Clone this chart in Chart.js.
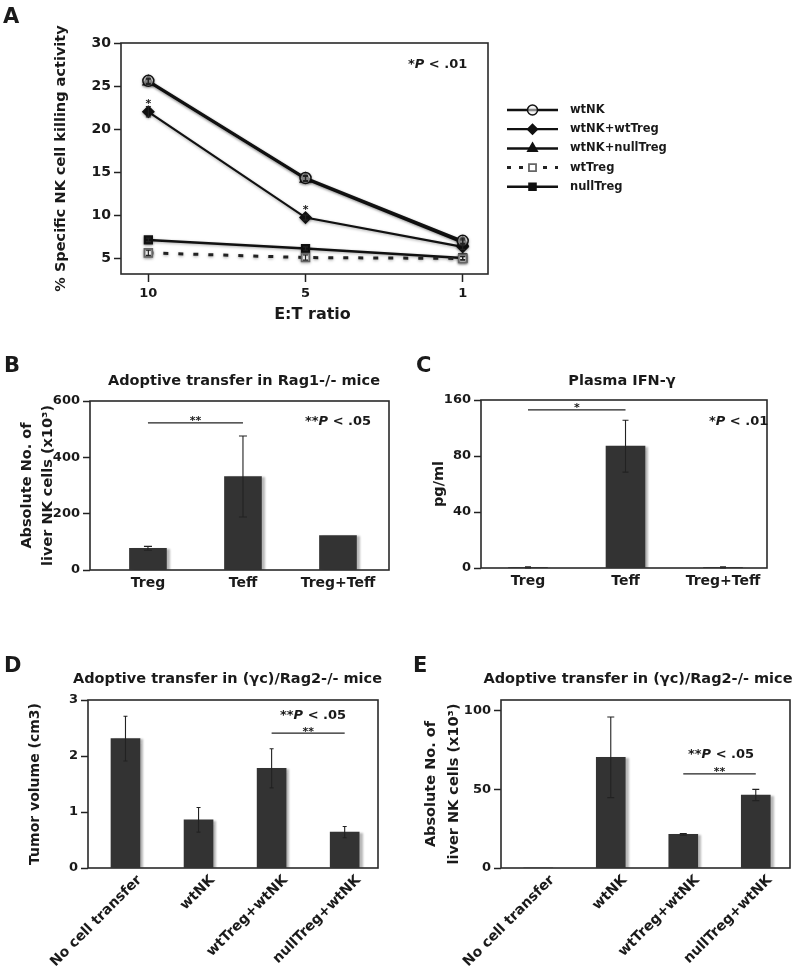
<!DOCTYPE html>
<html><head><meta charset="utf-8">
<script src="https://cdn.jsdelivr.net/npm/chart.js@4.4.1/dist/chart.umd.min.js"></script>
<style>
html,body{margin:0;padding:0;background:#fff;}
#wrap{position:relative;width:795px;height:975px;overflow:hidden;background:#fff;}
canvas{position:absolute;left:0;top:0;}
</style></head><body><div id="wrap">
<canvas id="cA" width="795" height="975"></canvas>
<canvas id="cB" width="795" height="975"></canvas>
<canvas id="cC" width="795" height="975"></canvas>
<canvas id="cD" width="795" height="975"></canvas>
<canvas id="cE" width="795" height="975"></canvas>
</div>
<script>
// ---------------- DATA ----------------
const etRatios = ['10', '5', '1'];
const wtNK = [25.6, 14.3, 7.0];
const wtNKErr = [0.3, 0.3, 0.3];
const wtNKwtTreg = [22.0, 9.7, 6.3];
const wtNKwtTregErr = [0.6, 0.3, 0.3];
const wtNKnullTreg = [25.5, 14.2, 6.8];
const wtNKnullTregErr = [0.3, 0.3, 0.3];
const wtTreg = [5.6, 5.05, 4.95];
const wtTregErr = [0.3, 0.3, 0.2];
const nullTreg = [7.1, 6.1, 5.0];
const nullTregErr = [0.2, 0.2, 0.2];
const killTicks = [5, 10, 15, 20, 25, 30];

const groupsBC = ['Treg', 'Teff', 'Treg+Teff'];
const nkRag1 = [77, 332, 122];
const nkRag1Err = [7, 144, 0];
const nkRag1Ticks = [0, 200, 400, 600];

const ifng = [0.4, 87, 0.4];
const ifngErr = [0.4, 18.5, 0.4];
const ifngTickPos = [0, 40, 80, 120];
const ifngTickLabels = ['0', '40', '80', '160'];

const groupsDE = ['No cell transfer', 'wtNK', 'wtTreg+wtNK', 'nullTreg+wtNK'];
const tumorVol = [2.31, 0.86, 1.78, 0.64];
const tumorVolErr = [0.40, 0.22, 0.35, 0.10];
const tumorTicks = [0, 1, 2, 3];
const nkGc = [0, 70.5, 21.4, 46.5];
const nkGcErr = [0, 25.7, 0.5, 3.6];
const nkGcTicks = [0, 50, 100];

// ---------------- STYLE ----------------
const FONT = "'DejaVu Sans', 'Liberation Sans', Arial, sans-serif";
const INK = '#1a1a1a';
const BAR = '#333333';
Chart.defaults.font.family = FONT;
Chart.defaults.font.weight = 'bold';
Chart.defaults.color = INK;
Chart.defaults.animation = false;
Chart.defaults.responsive = false;
Chart.defaults.devicePixelRatio = 1;
Chart.defaults.plugins.legend.display = false;
Chart.defaults.plugins.tooltip.enabled = false;

function fnt(size, italic) { return (italic ? 'italic ' : '') + 'bold ' + size + 'px ' + FONT; }
function drawRich(ctx, segs, x, y, size, align) {
  const ws = segs.map(s => { ctx.font = fnt(size, s[1]); return ctx.measureText(s[0]).width; });
  const total = ws.reduce((a, b) => a + b, 0);
  let cx = align === 'center' ? x - total / 2 : (align === 'right' ? x - total : x);
  ctx.textAlign = 'left'; ctx.textBaseline = 'alphabetic'; ctx.fillStyle = INK;
  segs.forEach((s, i) => { ctx.font = fnt(size, s[1]); ctx.fillText(s[0], cx, y); cx += ws[i]; });
}

// frame, error bars, shadows, annotations, legend
const panelPlugin = {
  id: 'panel',
  beforeDatasetsDraw(chart, args, o) {
    const ctx = chart.ctx; ctx.save();
    if (o.shadow) { ctx.shadowColor = o.shadow.color; ctx.shadowOffsetX = o.shadow.dx; ctx.shadowOffsetY = o.shadow.dy; ctx.shadowBlur = o.shadow.blur; }
  },
  afterDatasetsDraw(chart, args, o) {
    const ctx = chart.ctx; ctx.restore();
    const ys = chart.scales.y;
    chart.data.datasets.forEach((ds, di) => {
      if (!ds.errors) return;
      const meta = chart.getDatasetMeta(di);
      meta.data.forEach((el, i) => {
        const e = ds.errors[i]; if (!e) return;
        const v = ds.data[i].y;
        const y1 = ys.getPixelForValue(v + e), y2 = ys.getPixelForValue(v - e);
        const cw = o.cap || 6;
        ctx.save(); ctx.strokeStyle = ds.errColor || '#222'; ctx.lineWidth = ds.errWidth || 1.2;
        ctx.beginPath();
        ctx.moveTo(el.x, y1); ctx.lineTo(el.x, y2);
        ctx.moveTo(el.x - cw / 2, y1); ctx.lineTo(el.x + cw / 2, y1);
        ctx.moveTo(el.x - cw / 2, y2); ctx.lineTo(el.x + cw / 2, y2);
        ctx.stroke(); ctx.restore();
      });
    });
  },
  afterDraw(chart, args, o) {
    const ctx = chart.ctx, a = chart.chartArea;
    const xs = chart.scales.x, ys = chart.scales.y;
    ctx.save();
    ctx.strokeStyle = '#2a2a2a'; ctx.lineWidth = 1.6;
    ctx.strokeRect(a.left, a.top, a.right - a.left, a.bottom - a.top);
    (o.texts || []).forEach(t => drawRich(ctx, t.segs, t.x, t.y, t.size, t.align));
    (o.sig || []).forEach(s => {
      const x1 = xs.getPixelForValue(s.from), x2 = xs.getPixelForValue(s.to), y = ys.getPixelForValue(s.y);
      ctx.strokeStyle = '#222'; ctx.lineWidth = 1.3;
      ctx.beginPath(); ctx.moveTo(x1, y); ctx.lineTo(x2, y); ctx.stroke();
      ctx.font = fnt(11); ctx.fillStyle = INK; ctx.textAlign = 'center'; ctx.textBaseline = 'alphabetic';
      ctx.fillText(s.stars, (x1 + x2) / 2, y + 1.5);
    });
    (o.pointStars || []).forEach(s => {
      const el = chart.getDatasetMeta(s.dataset).data[s.index];
      ctx.font = fnt(11); ctx.fillStyle = INK; ctx.textAlign = 'center'; ctx.textBaseline = 'alphabetic';
      ctx.fillText(s.text, el.x, el.y - 4.5);
    });
    if (o.legend) {
      const L = o.legend;
      chart.data.datasets.forEach((ds, i) => {
        const y = L.y0 + i * L.dy;
        ctx.strokeStyle = ds.borderColor; ctx.lineWidth = ds.borderWidth;
        ctx.setLineDash(ds.legendDash || []);
        ctx.beginPath(); ctx.moveTo(L.x0, y); ctx.lineTo(L.x1, y); ctx.stroke();
        ctx.setLineDash([]);
        ctx.fillStyle = ds.pointBackgroundColor; ctx.strokeStyle = ds.pointBorderColor; ctx.lineWidth = ds.pointBorderWidth;
        Chart.helpers.drawPoint(ctx, { pointStyle: ds.pointStyle, radius: ds.pointRadius - 0.5, rotation: 0, borderWidth: ds.pointBorderWidth }, (L.x0 + L.x1) / 2, y);
        ctx.fillStyle = INK; ctx.font = fnt(L.size); ctx.textAlign = 'left'; ctx.textBaseline = 'middle';
        ctx.fillText(ds.label, L.tx, y);
      });
    }
    ctx.restore();
  }
};
Chart.register(panelPlugin);

function yAxis(cfg) {
  return {
    type: 'linear', min: cfg.min, max: cfg.max, offset: false,
    afterBuildTicks: s => { s.ticks = cfg.ticks.map(v => ({ value: v })); },
    afterFit: s => { s.width = cfg.width; },
    ticks: { color: INK, font: { size: cfg.tickSize, weight: 'bold' }, padding: 3,
      callback: (v, i) => cfg.labels ? cfg.labels[i] : String(v) },
    grid: { display: true, drawOnChartArea: false, drawTicks: true, tickLength: 7, tickColor: '#222', tickWidth: 1.5, color: 'rgba(0,0,0,0)' },
    border: { display: false },
    title: { display: true, text: cfg.title, color: INK,
      font: { size: cfg.titleSize, weight: 'bold', lineHeight: cfg.lineHeight || 1.2 },
      padding: { top: cfg.titlePad, bottom: 0 } }
  };
}
function xAxis(cfg) {
  return {
    type: 'linear', min: cfg.min, max: cfg.max, offset: false,
    afterBuildTicks: s => { s.ticks = cfg.labels.map((l, i) => ({ value: i })); },
    afterFit: s => { s.height = cfg.height; },
    ticks: { color: INK, font: { size: cfg.tickSize, weight: 'bold' }, padding: cfg.pad,
      autoSkip: false, maxRotation: cfg.rot || 0, minRotation: cfg.rot || 0, labelOffset: cfg.labelOffset || 0,
      callback: (v, i) => cfg.labels[i] },
    grid: { display: !!cfg.tickLen, drawOnChartArea: false, drawTicks: !!cfg.tickLen, tickLength: cfg.tickLen || 0, tickColor: '#222', tickWidth: 1.5, color: 'rgba(0,0,0,0)' },
    border: { display: false },
    title: cfg.title ? { display: true, text: cfg.title, color: INK, font: { size: 16, weight: 'bold' }, padding: { top: 0, bottom: cfg.titlePad } } : { display: false }
  };
}
const pts = arr => arr.map((v, i) => ({ x: i, y: v }));
const pad = (l, t, r, b) => ({ left: l, top: t, right: r, bottom: b });

// ---------------- PANEL A ----------------
function lineDs(label, vals, errs, style, extra) {
  return Object.assign({
    label, data: pts(vals), errors: errs, borderColor: '#111', borderWidth: 2.5,
    pointStyle: style, pointRadius: 5.5, pointBorderWidth: 1.5,
    pointBackgroundColor: '#111', pointBorderColor: '#111', tension: 0, errWidth: 1.2
  }, extra || {});
}
new Chart(document.getElementById('cA'), {
  type: 'line',
  data: { datasets: [
    lineDs('wtNK', wtNK, wtNKErr, 'circle', { pointBackgroundColor: 'rgba(235,235,235,0.55)' }),
    lineDs('wtNK+wtTreg', wtNKwtTreg, wtNKwtTregErr, 'rectRot', { borderWidth: 2.2 }),
    lineDs('wtNK+nullTreg', wtNKnullTreg, wtNKnullTregErr, 'triangle', { pointRadius: 6 }),
    lineDs('wtTreg', wtTreg, wtTregErr, 'rect', { borderDash: [5, 10], legendDash: [4, 8], borderWidth: 3, pointBackgroundColor: '#fff', pointBorderColor: '#666', pointBorderWidth: 1.8, borderColor: '#222' }),
    lineDs('nullTreg', nullTreg, nullTregErr, 'rect')
  ]},
  options: {
    layout: { padding: pad(21, 43, 307, 645) },
    scales: {
      x: xAxis({ min: -0.174, max: 2.161, labels: etRatios, height: 56, tickSize: 13, pad: 4, tickLen: 8, title: '\u2003E:T ratio', titlePad: 6 }),
      y: yAxis({ min: 3.14, max: 30, ticks: killTicks, width: 100, tickSize: 14, title: '% Specific NK cell killing activity', titleSize: 14.5, titlePad: 32 })
    },
    plugins: { panel: {
      shadow: { color: 'rgba(0,0,0,0.35)', dx: 0, dy: 1, blur: 3 },
      cap: 5,
      texts: [
        { segs: [['A']], x: 3, y: 23, size: 21 },
        { segs: [['*'], ['P', true], [' < .01']], x: 408, y: 68, size: 13 }
      ],
      pointStars: [{ dataset: 1, index: 0, text: '*' }, { dataset: 1, index: 1, text: '*' }],
      legend: { x0: 507, x1: 558, tx: 570, y0: 110, dy: 19.2, size: 11.5 }
    } }
  }
});

// ---------------- bar panel helper ----------------
function barDs(label, vals, errs, thick) {
  return { label, data: pts(vals), errors: errs, backgroundColor: BAR, borderWidth: 0, barThickness: thick, errWidth: 1.1, errColor: '#222' };
}
const barShadow = { color: 'rgba(0,0,0,0.28)', dx: 3, dy: 1, blur: 2 };

// ---------------- PANEL B ----------------
new Chart(document.getElementById('cB'), {
  type: 'bar',
  data: { datasets: [barDs('Absolute No. of liver NK cells', nkRag1, nkRag1Err, 37)] },
  options: {
    layout: { padding: pad(0, 401, 406, 365) },
    scales: {
      x: xAxis({ min: -0.61, max: 2.537, labels: groupsBC, height: 40, tickSize: 14, pad: 5 }),
      y: yAxis({ min: 0, max: 600, ticks: nkRag1Ticks, width: 90, tickSize: 13, title: ['Absolute No. of', 'liver NK cells (x10³)'], titleSize: 14.5, lineHeight: 1.45, titlePad: 17 })
    },
    plugins: { panel: {
      shadow: barShadow, cap: 8,
      texts: [
        { segs: [['B']], x: 4, y: 372, size: 21 },
        { segs: [['Adoptive transfer in Rag1-/- mice']], x: 244, y: 385, size: 14.5, align: 'center' },
        { segs: [['**'], ['P', true], [' < .05']], x: 305, y: 425, size: 13 }
      ],
      sig: [{ from: 0, to: 1, y: 522, stars: '**' }]
    } }
  }
});

// ---------------- PANEL C ----------------
new Chart(document.getElementById('cC'), {
  type: 'bar',
  data: { datasets: [barDs('Plasma IFN-γ', ifng, ifngErr, 39)] },
  options: {
    layout: { padding: pad(400, 400, 28, 367) },
    scales: {
      x: xAxis({ min: -0.482, max: 2.451, labels: groupsBC, height: 40, tickSize: 14, pad: 5 }),
      y: yAxis({ min: 0, max: 120, ticks: ifngTickPos, labels: ifngTickLabels, width: 81, tickSize: 13, title: 'pg/ml', titleSize: 14.5, titlePad: 31 })
    },
    plugins: { panel: {
      shadow: barShadow, cap: 6,
      texts: [
        { segs: [['C']], x: 416, y: 372, size: 21 },
        { segs: [['Plasma IFN-γ']], x: 622, y: 385, size: 14.5, align: 'center' },
        { segs: [['*'], ['P', true], [' < .01']], x: 709, y: 425, size: 13 }
      ],
      sig: [{ from: 0, to: 1, y: 112.9, stars: '*' }]
    } }
  }
});

// ---------------- PANEL D ----------------
new Chart(document.getElementById('cD'), {
  type: 'bar',
  data: { datasets: [barDs('Tumor volume', tumorVol, tumorVolErr, 29)] },
  options: {
    layout: { padding: pad(0, 700, 417, 0) },
    scales: {
      x: xAxis({ min: -0.513, max: 3.456, labels: groupsDE, height: 107, tickSize: 14, pad: 4, rot: 45, labelOffset: 14 }),
      y: yAxis({ min: 0, max: 3, ticks: tumorTicks, width: 88, tickSize: 13, title: 'Tumor volume (cm3)', titleSize: 14, titlePad: 26.6 })
    },
    plugins: { panel: {
      shadow: barShadow, cap: 4,
      texts: [
        { segs: [['D']], x: 4, y: 672, size: 21 },
        { segs: [['Adoptive transfer in (γc)/Rag2-/- mice']], x: 227.5, y: 683, size: 14.5, align: 'center' },
        { segs: [['**'], ['P', true], [' < .05']], x: 280, y: 719, size: 13 }
      ],
      sig: [{ from: 2, to: 3, y: 2.41, stars: '**' }]
    } }
  }
});

// ---------------- PANEL E ----------------
new Chart(document.getElementById('cE'), {
  type: 'bar',
  data: { datasets: [barDs('Absolute No. of liver NK cells', nkGc, nkGcErr, 29)] },
  options: {
    layout: { padding: pad(400, 700, 5, 0) },
    scales: {
      x: xAxis({ min: -0.514, max: 3.472, labels: groupsDE, height: 107, tickSize: 14, pad: 4, rot: 45, labelOffset: 14 }),
      y: yAxis({ min: 0, max: 107, ticks: nkGcTicks, width: 101, tickSize: 13, title: ['Absolute No. of', 'liver NK cells (x10³)'], titleSize: 14.5, lineHeight: 1.586, titlePad: 19.5 })
    },
    plugins: { panel: {
      shadow: barShadow, cap: 7,
      texts: [
        { segs: [['E']], x: 413, y: 672, size: 21 },
        { segs: [['Adoptive transfer in (γc)/Rag2-/- mice']], x: 638, y: 683, size: 14.5, align: 'center' },
        { segs: [['**'], ['P', true], [' < .05']], x: 688, y: 758, size: 13 }
      ],
      sig: [{ from: 2, to: 3, y: 60, stars: '**' }]
    } }
  }
});
</script></body></html>
